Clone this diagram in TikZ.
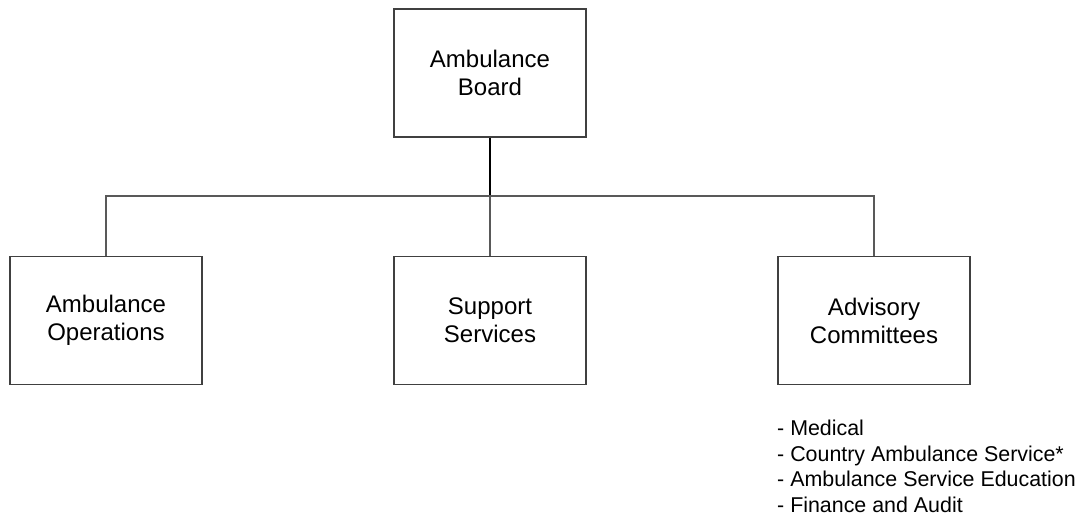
\documentclass[tikz,border=0pt]{standalone}
\usepackage{fontspec}
\setmainfont{Liberation Sans}
\usetikzlibrary{positioning}

\begin{document}
\begin{tikzpicture}[x=1pt,y=-1pt,
                    every node/.style={font=\fontsize{24}{28}\selectfont},
                    unit/.style={draw=black!75,line width=1.2pt,align=center,
                                 minimum width=192pt,minimum height=128pt,inner sep=0pt},
                    link/.style={draw=black!65,line width=1.2pt}]

\useasboundingbox (0,0) rectangle (1077,516);

\node[unit] (board) at (490,73) {Ambulance\\Board};
\node[unit] (ops) at (106,320.5) {Ambulance\\Operations};
\node[unit] (support) at (490,320.5) {Support\\Services};
\node[unit] (advisory) at (874,320.5) {Advisory\\Committees};

\coordinate (bus) at (490,196);
\draw[line width=2.2pt] (board.south) -- (bus);
\draw[link] (ops.north) |- (bus) -| (advisory.north);
\draw[link] (bus) -- (support.north);

\node[align=left,anchor=north west,inner sep=0pt,
      font=\fontsize{21.4}{25.6}\selectfont] (members) at (777,420)
  {- Medical\\- Country Ambulance Service*\\- Ambulance Service Education\\- Finance and Audit};

\end{tikzpicture}
\end{document}
